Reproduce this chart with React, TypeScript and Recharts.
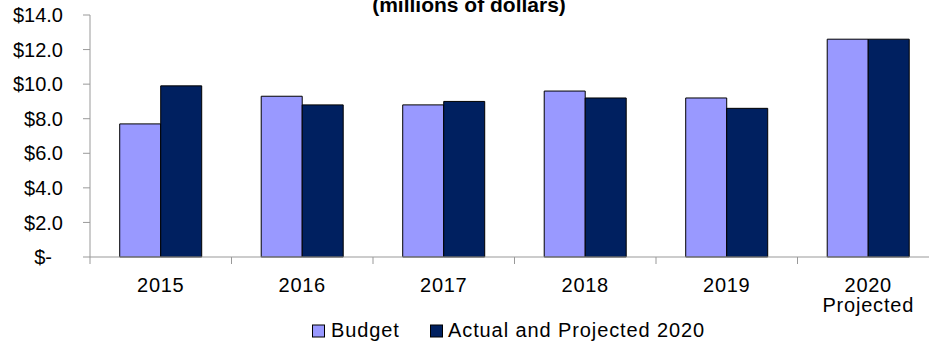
import { BarChart, Bar, XAxis, YAxis } from 'recharts'

// values (millions of dollars)
const years = ['2015', '2016', '2017', '2018', '2019', '2020']
const yearNotes = ['', '', '', '', '', 'Projected']
const budget = [7.7, 9.3, 8.8, 9.6, 9.2, 12.6]
const actual = [9.9, 8.8, 9.0, 9.2, 8.6, 12.6]
const yTicks = [0, 2, 4, 6, 8, 10, 12, 14]

const data = years.map((year, i) => ({ year, budget: budget[i], actual: actual[i] }))

const W = 929
const H = 341
const PLOT_LEFT = 90
const PLOT_RIGHT = 939
const PLOT_TOP = 15
const X_AXIS_H = 84
const BAND = (PLOT_RIGHT - PLOT_LEFT) / years.length
const FONT = '"Liberation Sans", Arial, sans-serif'
const AXIS = '#999999'
const BUDGET_COLOR = '#9999FF'
const ACTUAL_COLOR = '#002060'

function YTick(props: Record<string, unknown>) {
  const { x, y, payload } = props as { x: number; y: number; payload: { value: number } }
  const v = payload.value
  return (
    <text
      x={v === 0 ? x - 11 : x}
      y={y}
      dy="0.355em"
      textAnchor="end"
      fontSize={20}
      fontFamily={FONT}
      fill="#000"
    >
      {v === 0 ? '$-' : `$${v.toFixed(1)}`}
    </text>
  )
}

function XTick(props: Record<string, unknown>) {
  const { x, y, payload } = props as { x: number; y: number; payload: { value: string } }
  const note = yearNotes[years.indexOf(payload.value)]
  return (
    <g>
      {/* tick marks sit on the category boundaries, not the centres */}
      <line x1={x - BAND / 2} x2={x - BAND / 2} y1={y} y2={y + 7} stroke={AXIS} />
      <text x={x} y={y + 35} textAnchor="middle" fontSize={20} letterSpacing={0.7} fontFamily={FONT} fill="#000">
        {payload.value}
      </text>
      {note && (
        <text x={x} y={y + 55} textAnchor="middle" fontSize={20} letterSpacing={0.8} fontFamily={FONT} fill="#000">
          {note}
        </text>
      )}
    </g>
  )
}

export default function App() {
  return (
    <div
      style={{
        position: 'absolute', left: 0, top: 0, width: W, height: H,
        overflow: 'hidden', background: '#fff',
      }}
    >
      <BarChart
        width={PLOT_RIGHT + 21}
        height={H}
        data={data}
        margin={{ top: PLOT_TOP, right: 21, bottom: 0, left: 0 }}
        barCategoryGap="21%"
        barGap={0}
      >
        <XAxis
          dataKey="year"
          height={X_AXIS_H}
          interval={0}
          tickSize={0}
          tickMargin={0}
          tick={<XTick />}
          axisLine={{ stroke: AXIS }}
        />
        <YAxis
          width={PLOT_LEFT}
          domain={[0, 14]}
          ticks={yTicks}
          interval={0}
          tickSize={7}
          tickMargin={20}
          tick={<YTick />}
          axisLine={{ stroke: AXIS }}
          tickLine={{ stroke: AXIS }}
        />
        <Bar dataKey="budget" fill={BUDGET_COLOR} stroke="#000" strokeWidth={1} isAnimationActive={false} />
        <Bar dataKey="actual" fill={ACTUAL_COLOR} stroke="#000" strokeWidth={1} isAnimationActive={false} />
      </BarChart>

      {/* title (cut off at the top in the reference) and legend */}
      <svg
        width={W}
        height={H}
        style={{ position: 'absolute', left: 0, top: 0, pointerEvents: 'none' }}
      >
        <text x={469} y={12} textAnchor="middle" fontSize={21} fontWeight="bold" fontFamily={FONT} fill="#000">
          (millions of dollars)
        </text>
        <rect x={312.5} y={325} width={12} height={12} fill={BUDGET_COLOR} stroke="#000" />
        <text x={331} y={337} fontSize={20} letterSpacing={0.9} fontFamily={FONT} fill="#000">Budget</text>
        <rect x={430.5} y={325} width={12} height={12} fill={ACTUAL_COLOR} stroke="#000" />
        <text x={448} y={337} fontSize={20} letterSpacing={0.9} fontFamily={FONT} fill="#000">Actual and Projected 2020</text>
      </svg>
    </div>
  )
}
